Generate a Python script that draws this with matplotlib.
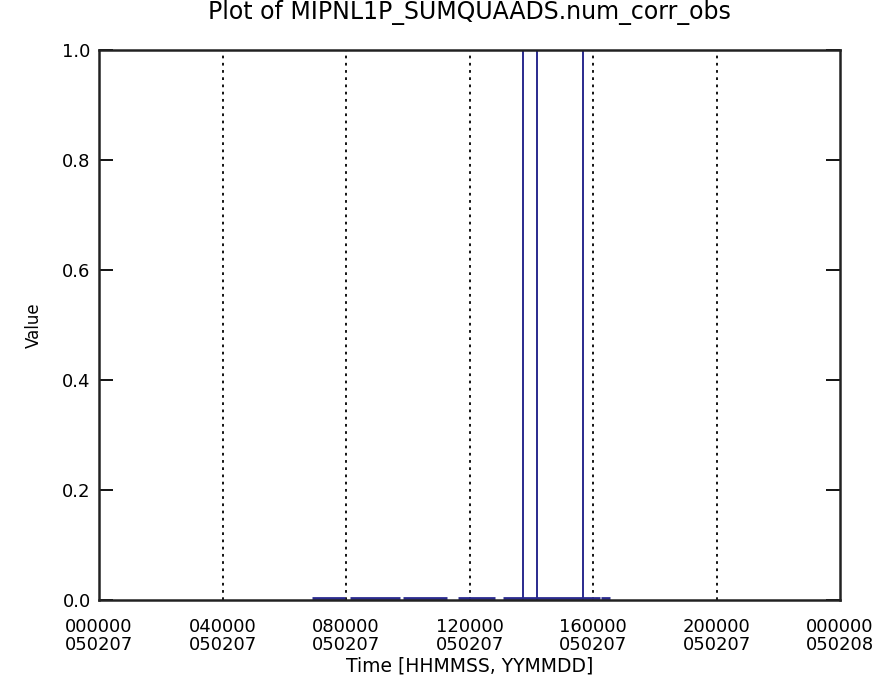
import numpy as np
import matplotlib
matplotlib.use('Agg')
import matplotlib.pyplot as plt

# x positions in hours of the day
tick_hours = [0, 4, 8, 12, 16, 20, 24]
tick_labels = ['000000\n050207', '040000\n050207', '080000\n050207', '120000\n050207',
               '160000\n050207', '200000\n050207', '000000\n050208']
grid_hours = [4, 8, 12, 16, 20]

# stretches of (near) zero values, start / end in hours
seg_start = [6.90, 8.13, 9.85, 11.63, 13.08, 16.25]
seg_end = [7.97, 9.75, 11.27, 12.83, 16.23, 16.55]
seg_value = [0.004, 0.004, 0.004, 0.004, 0.004, 0.003]

# single samples with value 1
spike_hours = [13.73, 14.19, 15.68]
spike_value = [1.0, 1.0, 1.0]

blue = '#2a2a8e'

fig = plt.figure(figsize=(8.89, 6.98), dpi=100)
ax = fig.add_axes([0.1114, 0.1404, 0.8335, 0.788])

for h in grid_hours:
    ax.axvline(h, color='black', linestyle=(0, (1.5, 2.5)), linewidth=1.3, zorder=1)

for s, e, v in zip(seg_start, seg_end, seg_value):
    ax.plot([s, e], [v, v], color=blue, linewidth=2, solid_capstyle='butt', zorder=2)

for h, v in zip(spike_hours, spike_value):
    ax.plot([h, h], [0, v], color=blue, linewidth=1.4, zorder=2)

ax.set_xlim(0, 24)
ax.set_ylim(0, 1.0)
ax.set_xticks(tick_hours)
ax.set_xticklabels(tick_labels, fontsize=13, linespacing=1.0)
ax.set_yticks(np.arange(0, 1.01, 0.2))
ax.set_yticklabels(['0.0', '0.2', '0.4', '0.6', '0.8', '1.0'], fontsize=13)
ax.tick_params(axis='x', length=0, pad=13)
ax.tick_params(axis='y', direction='in', length=10, width=1.3, right=True, pad=6)

for sp in ax.spines.values():
    sp.set_linewidth(1.8)
    sp.set_color('#222222')

ax.set_title('Plot of MIPNL1P_SUMQUAADS.num_corr_obs', fontsize=17, pad=22)
ax.set_xlabel('Time [HHMMSS, YYMMDD]', fontsize=13.5, labelpad=2)
ax.set_ylabel('Value', fontsize=12, labelpad=14)

fig.savefig('out.png', dpi=100)
